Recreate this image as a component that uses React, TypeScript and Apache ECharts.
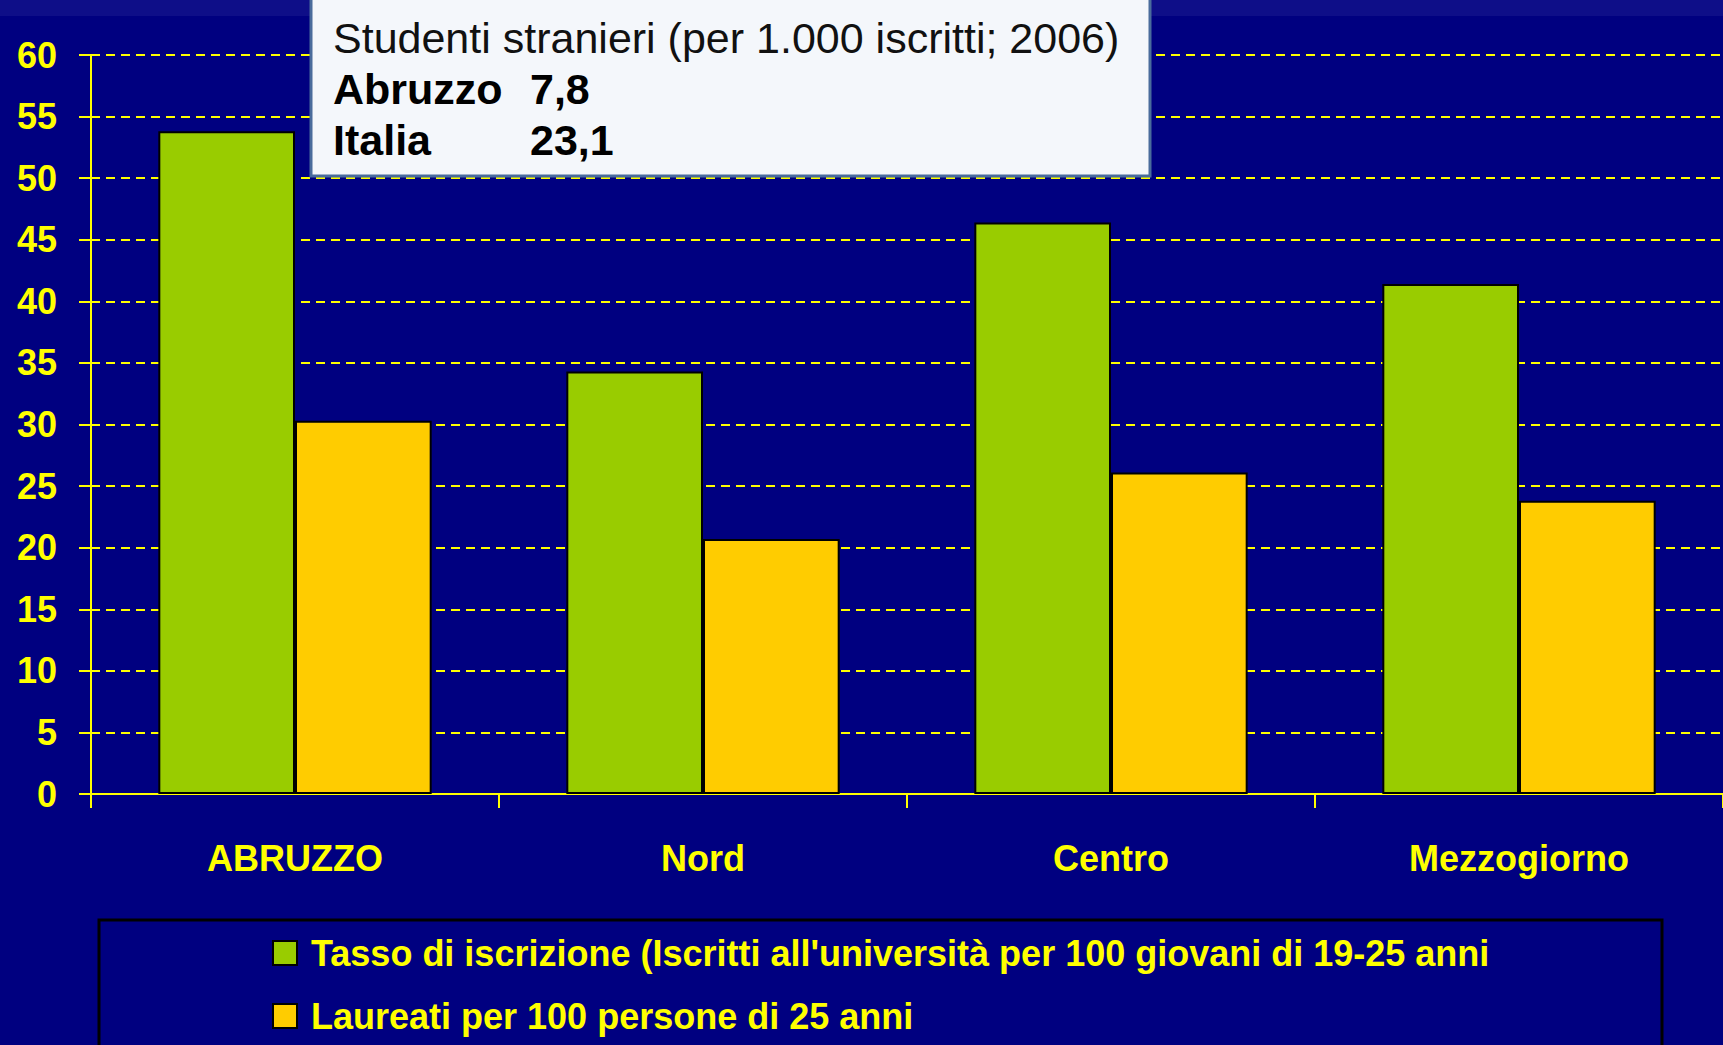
import React, { useEffect, useRef } from "react";
import * as echarts from "echarts";

const categories = ["ABRUZZO", "Nord", "Centro", "Mezzogiorno"];
const seriesNames = [
  "Tasso di iscrizione (Iscritti all'università per 100 giovani di 19-25 anni",
  "Laureati per 100 persone di 25 anni",
];
const tassoIscrizione = [53.8, 34.3, 46.4, 41.4];
const laureati = [30.3, 20.7, 26.1, 23.8];
const yTicks = { min: 0, max: 60, interval: 5 };
const noteTitle = "Studenti stranieri (per 1.000 iscritti; 2006)";
const noteRows = [
  ["Abruzzo", "7,8"],
  ["Italia", "23,1"],
];

const YELLOW = "#ffff00";
const BG = "#000080";
const FONT = "'Liberation Sans', Arial, sans-serif";

export default function App() {
  const ref = useRef<HTMLDivElement>(null);
  useEffect(() => {
    if (!ref.current) return;
    const chart = echarts.init(ref.current, null, { renderer: "svg" });
    const option: any = {
      animation: false,
      backgroundColor: BG,
      grid: { left: 91, right: -3, top: 55, bottom: 251, containLabel: false },
      legend: {
        orient: "vertical",
        left: 267,
        top: 930,
        itemGap: 27,
        itemWidth: 24,
        itemHeight: 24,
        icon: "rect",
        data: seriesNames,
        itemStyle: { borderColor: "#000000", borderWidth: 2 },
        textStyle: {
          color: YELLOW,
          fontSize: 36,
          fontWeight: "bold",
          fontFamily: FONT,
          lineHeight: 36,
          padding: [0, 0, 0, 9],
        },
      },
      xAxis: {
        type: "category",
        data: categories,
        axisLine: { lineStyle: { color: YELLOW, width: 2 } },
        axisTick: { show: true, length: 14, lineStyle: { color: YELLOW, width: 2 } },
        axisLabel: {
          color: YELLOW,
          fontSize: 36,
          fontWeight: "bold",
          fontFamily: FONT,
          margin: 46,
        },
      },
      yAxis: {
        type: "value",
        min: yTicks.min,
        max: yTicks.max,
        interval: yTicks.interval,
        axisLine: { show: true, lineStyle: { color: YELLOW, width: 2 } },
        axisTick: { show: true, length: 12, lineStyle: { color: YELLOW, width: 2 } },
        axisLabel: {
          color: YELLOW,
          fontSize: 36,
          fontWeight: "bold",
          fontFamily: FONT,
          margin: 34,
        },
        splitLine: {
          show: true,
          lineStyle: { color: YELLOW, width: 2, type: [9, 6] },
        },
      },
      series: [
        {
          name: seriesNames[0],
          type: "bar",
          data: tassoIscrizione,
          barGap: "0%",
          barCategoryGap: "33%",
          itemStyle: { color: "#99cc00", borderColor: "#000000", borderWidth: 2 },
        },
        {
          name: seriesNames[1],
          type: "bar",
          data: laureati,
          barGap: "0%",
          barCategoryGap: "33%",
          itemStyle: { color: "#ffcc00", borderColor: "#000000", borderWidth: 2 },
        },
      ],
      graphic: [
        {
          type: "rect",
          z: -10,
          silent: true,
          shape: { x: 0, y: 0, width: 1723, height: 16 },
          style: { fill: "#0e0e88" },
        },
        {
          type: "rect",
          silent: true,
          z: 5,
          shape: { x: 99, y: 920, width: 1563, height: 200 },
          style: { fill: "none", stroke: "#000000", lineWidth: 3 },
        },
        {
          type: "rect",
          z: 100,
          silent: true,
          shape: { x: 311, y: -6, width: 839, height: 182 },
          style: { fill: "#f4f7fb", stroke: "#4a6c9c", lineWidth: 3 },
        },
        {
          type: "text",
          z: 101,
          silent: true,
          x: 333,
          y: 38,
          style: {
            text: noteTitle,
            fill: "#111111",
            font: `43px ${FONT}`,
            textVerticalAlign: "middle",
          },
        },
        ...noteRows.flatMap((row, i) => [
          {
            type: "text",
            z: 101,
            silent: true,
            x: 333,
            y: 89 + i * 51,
            style: {
              text: row[0],
              fill: "#000000",
              font: `bold 43px ${FONT}`,
              textVerticalAlign: "middle",
            },
          },
          {
            type: "text",
            z: 101,
            silent: true,
            x: 530,
            y: 89 + i * 51,
            style: {
              text: row[1],
              fill: "#000000",
              font: `bold 43px ${FONT}`,
              textVerticalAlign: "middle",
            },
          },
        ]),
      ],
    };
    chart.setOption(option);
    return () => chart.dispose();
  }, []);
  return (
    <div
      ref={ref}
      style={{ position: "fixed", left: 0, top: 0, width: 1723, height: 1045 }}
    />
  );
}
